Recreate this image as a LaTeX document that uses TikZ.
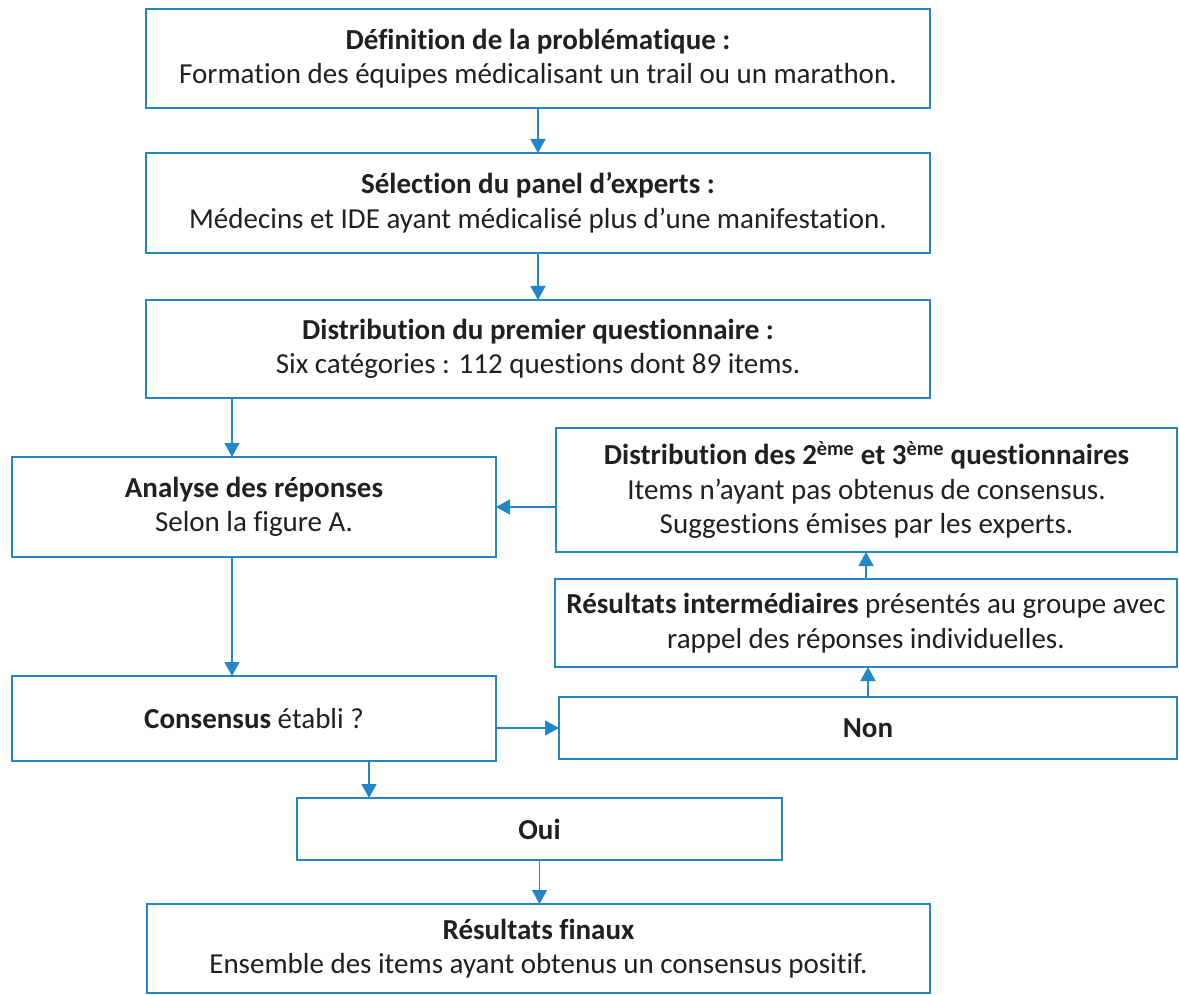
\documentclass[tikz,border=0pt]{standalone}
\usepackage{fontspec}
\setmainfont{Carlito}[Ligatures=NoCommon]
\usepackage{tikz}
\usetikzlibrary{arrows.meta}
\usetikzlibrary{positioning}

\definecolor{flowblue}{RGB}{36,133,199}
\definecolor{flowtext}{RGB}{35,31,32}

\tikzset{
    etape/.style={draw=flowblue, line width=2pt, fill=white, align=center,
        text=flowtext, font=\fontsize{29}{34.5}\selectfont,
        inner sep=0pt, outer sep=0pt},
    fleche/.style={draw=flowblue, line width=1.5pt,
        -{Triangle[width=15pt,length=14pt]}}
}

\begin{document}
\begin{tikzpicture}[x=1pt,y=-1pt]
            \useasboundingbox (0,0) rectangle (1179,995);

            \node[etape, minimum width=784pt, minimum height=99pt] (def) at (538,58.5)
                {\textbf{Définition de la problématique :}\\Formation des équipes médicalisant un trail ou un marathon.};
            \node[etape, minimum width=784pt, minimum height=100pt] (sel) at (538,203)
                {\textbf{Sélection du panel d’experts :}\\Médecins et IDE ayant médicalisé plus d’une manifestation.};
            \node[etape, minimum width=784pt, minimum height=98pt] (quest) at (538,349)
                {\textbf{Distribution du premier questionnaire :}\\Six catégories : 112 questions dont 89 items.};

            \node[etape, minimum width=484pt, minimum height=100pt] (analyse) at (254,507)
                {\textbf{Analyse des réponses}\\Selon la figure A.};
            \node[etape, minimum width=621pt, minimum height=124pt] (redist) at (866.5,490)
                {\textbf{Distribution des 2\textsuperscript{ème} et 3\textsuperscript{ème} questionnaires}\\Items n’ayant pas obtenus de consensus.\\Suggestions émises par les experts.};
            \node[etape, minimum width=622pt, minimum height=88pt] (inter) at (866,623)
                {\textbf{Résultats intermédiaires} présentés au groupe avec\\rappel des réponses individuelles.};

            \node[etape, minimum width=484pt, minimum height=85pt] (cons) at (254,718.5)
                {\textbf{Consensus} établi ?};
            \node[etape, minimum width=618pt, minimum height=62pt] (non) at (868,728)
                {\textbf{Non}};
            \node[etape, minimum width=485pt, minimum height=62pt] (oui) at (539.5,829)
                {\textbf{Oui}};
            \node[etape, minimum width=783pt, minimum height=89pt] (final) at (538.5,948.5)
                {\textbf{Résultats finaux}\\Ensemble des items ayant obtenus un consensus positif.};

            \draw[fleche] (def.south) -- (sel.north);
            \draw[fleche] (sel.south) -- (quest.north);
            \draw[fleche] ([xshift=86pt]quest.south west) -- ([xshift=220pt]analyse.north west);
            \draw[fleche] (redist.west |- analyse.east) -- (analyse.east);
            \draw[fleche] ([xshift=220pt]analyse.south west) -- ([xshift=220pt]cons.north west);
            \draw[fleche] (cons.east |- non.west) -- (non.west);
            \draw[fleche] (non.north) -- (non.north |- inter.south);
            \draw[fleche] (inter.north) -- (inter.north |- redist.south);
            \draw[fleche] ([xshift=357pt]cons.south west) -- ([xshift=72pt]oui.north west);
            \draw[fleche] (oui.south) -- (oui.south |- final.north);
        \end{tikzpicture}
\end{document}
